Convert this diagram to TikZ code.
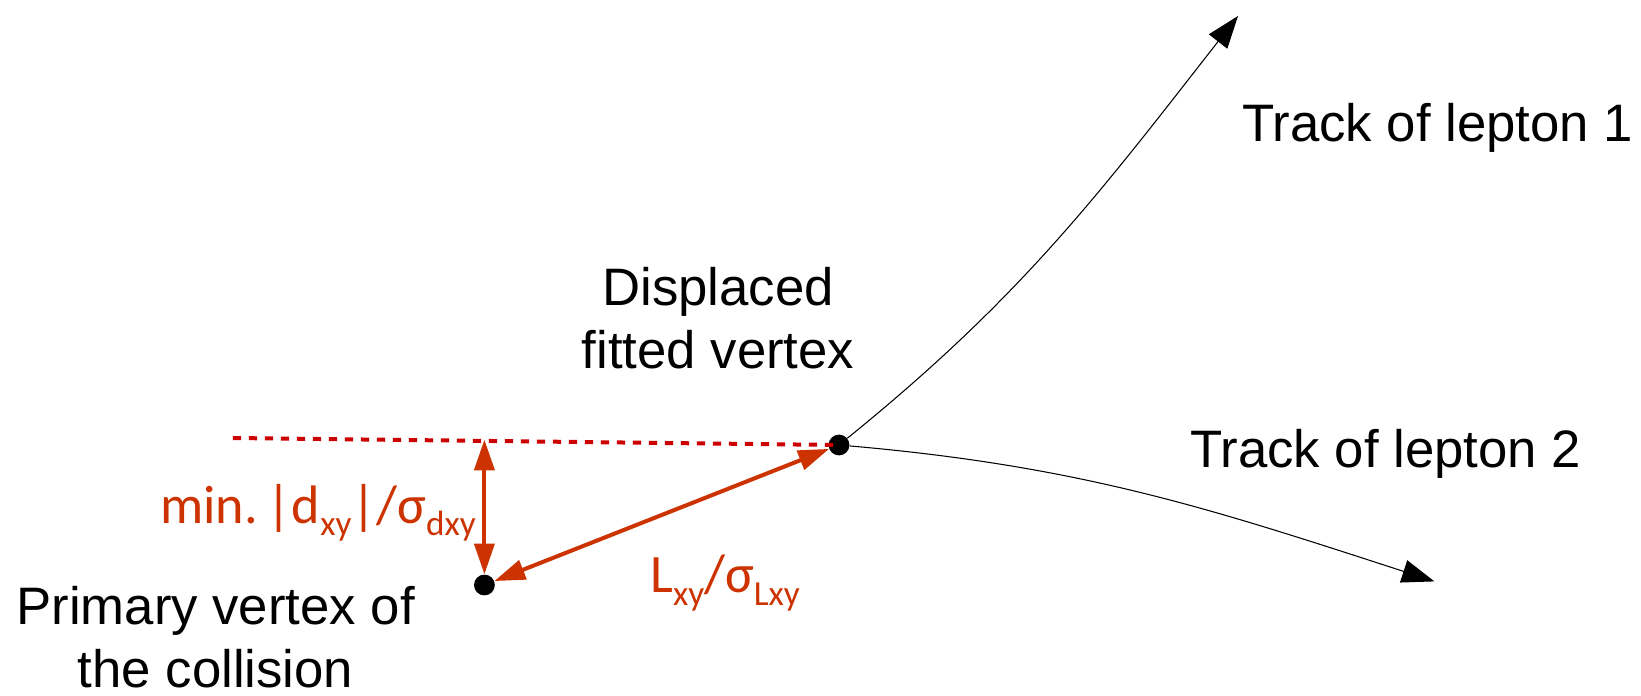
\documentclass[tikz,border=0pt]{standalone}
\usepackage{fontspec}
\setmainfont{Liberation Sans}
\newfontfamily\labelfont{Carlito}
\usetikzlibrary{arrows.meta}
\definecolor{cutred}{HTML}{CC0000}
\definecolor{measred}{HTML}{CC3300}
\newcommand{\lsub}[1]{\raisebox{-0.24em}{\fontsize{25}{25}\selectfont #1}}
\tikzset{
	vtx/.style={shape=circle, fill=black, inner sep=0pt, minimum size=0.52cm},
	track/.style={line width=0.75pt, -{Triangle[length=0.81cm, width=0.58cm]}},
	meas/.style={measred, line width=0.1cm, {Triangle[length=0.77cm, width=0.5cm]}-{Triangle[length=0.77cm, width=0.5cm]}},
	cut/.style={cutred, line width=0.1cm, dash pattern=on 0.21cm off 0.19cm},
	caption/.style={font=\fontsize{37.5}{44.5}\selectfont, inner sep=0pt, align=center},
	measlabel/.style={measred, font=\labelfont\fontsize{38.5}{46}\selectfont, inner sep=0pt}
}
\begin{document}
\begin{tikzpicture}
	\useasboundingbox (0,0) rectangle (41.025,17.375);
	% Paths, nodes and wires:
	\node[vtx] (dv) at (20.975, 6.25){};
	\node[vtx] (pv) at (12.11, 2.75){};
	\coordinate (cutstart) at (5.82, 6.425);
	\coordinate (cutfoot) at (12.11, 6.385);
	\coordinate (lep1end) at (30.95, 16.975);
	\coordinate (lep2end) at (35.86, 2.84);
	\draw[track] (dv) to[out=39, in=232] (lep1end);
	\draw[track] (dv) to[out=-5, in=162] (lep2end);
	\draw[meas] (pv) -- (dv);
	\draw[meas] (cutfoot) -- (pv);
	\draw[cut] (cutstart) -- (dv.center);
	\node[caption, anchor=base west] (lep1text) at (31.05, 13.825){Track of lepton 1};
	\node[caption, anchor=base west] (lep2text) at (29.75, 5.675){Track of lepton 2};
	\node[caption, anchor=base] (dvtext) at (17.95, 8.165){Displaced\\fitted vertex};
	\node[caption, anchor=base] (pvtext) at (5.39, 0.2){Primary vertex of\\the collision};
	\node[measlabel, anchor=base west] (dxytext) at (4.0, 4.3){min.\,|d\lsub{xy}|/σ\lsub{dxy}};
	\node[measlabel, anchor=base west] (lxytext) at (16.25, 2.5625){L\lsub{xy}/σ\lsub{Lxy}};
\end{tikzpicture}
\end{document}
